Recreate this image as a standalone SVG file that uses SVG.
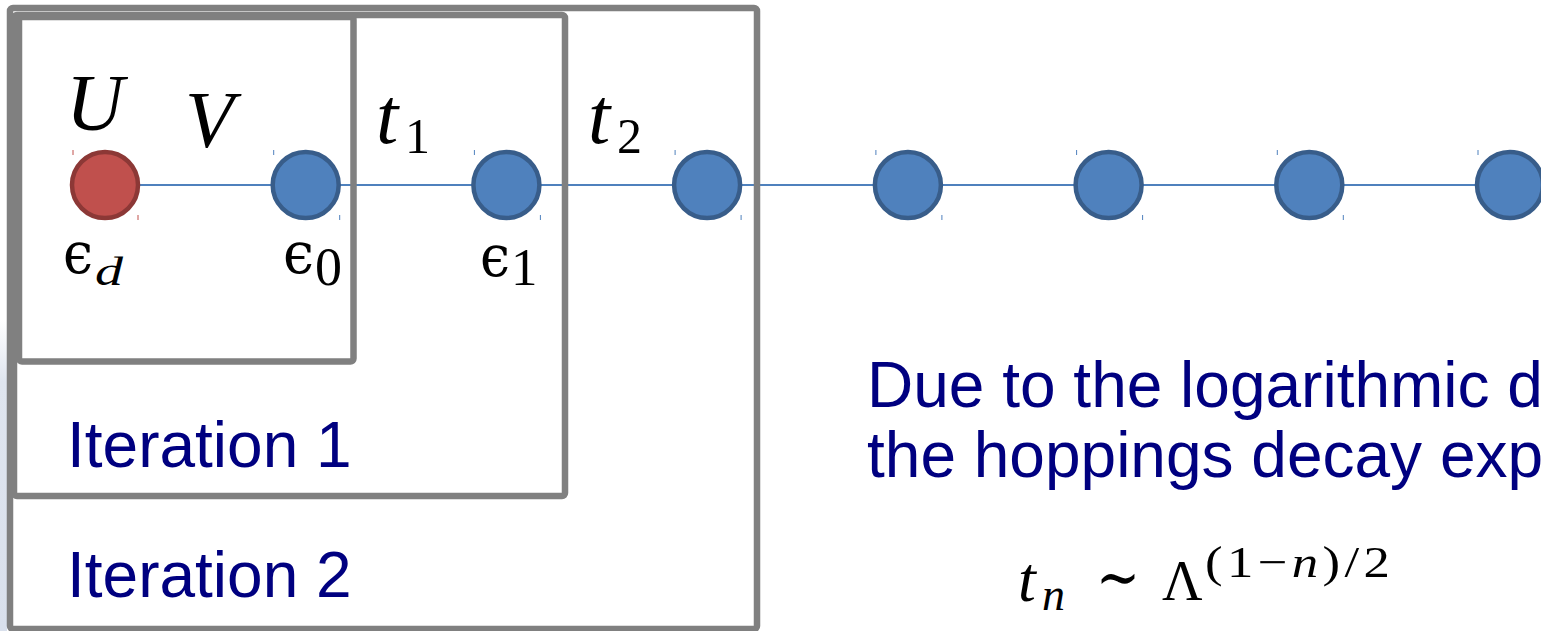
<svg xmlns="http://www.w3.org/2000/svg" width="1541" height="631" viewBox="0 0 1541 631">
<defs>
<linearGradient id="edge" x1="0" y1="0" x2="0" y2="1">
<stop offset="0" stop-color="#dfe5ef" stop-opacity="0"/>
<stop offset="0.2" stop-color="#dfe5ef" stop-opacity="1"/>
<stop offset="1" stop-color="#d9e0ec" stop-opacity="1"/>
</linearGradient>
</defs>
<style>
.box{fill:none;stroke:#808080;stroke-width:6.5}
.bond{stroke:#4f81bd;stroke-width:2;fill:none}
.red{fill:#c0504d;stroke:#8c3836;stroke-width:4.5}
.blue{fill:#4f81bd;stroke:#385d8a;stroke-width:4.5}
.tr{stroke:#c0504d;stroke-width:1}
.tb{stroke:#4f81bd;stroke-width:1}
.mi{font-family:"Liberation Serif","DejaVu Serif",serif;font-style:italic;fill:#000}
.mr{font-family:"Liberation Serif","DejaVu Serif",serif;fill:#000}
.eps{font-family:"DejaVu Serif","Liberation Serif",serif;fill:#000}
.lbl{font-family:"Liberation Sans",Arial,sans-serif;font-size:64px;fill:#000080}
</style>
<rect x="0" y="0" width="1541" height="631" fill="#fff"/>
<rect x="0" y="320" width="7" height="311" fill="url(#edge)"/>

<g id="connectors">
<line class="bond" x1="138" y1="185" x2="1541" y2="185"/>
</g>

<g id="iteration2"><rect class="box" x="10" y="8" width="747" height="621" rx="3"/></g>
<g id="iteration1"><rect class="box" x="14" y="15" width="551" height="481" rx="3"/></g>
<g id="iteration0"><rect class="box" x="19" y="17" width="334.5" height="344.5" rx="3"/></g>

<g id="node-d"><circle class="red" cx="105" cy="185" r="33"/><path class="tr" d="M73 150v5M138 215v5"/></g>
<g id="node-0"><circle class="blue" cx="305.7" cy="185" r="33"/><path class="tb" d="M273.7 150v5M339.7 215v5"/></g>
<g id="node-1"><circle class="blue" cx="506.4" cy="185" r="33"/><path class="tb" d="M474.4 150v5M540.4 215v5"/></g>
<g id="node-2"><circle class="blue" cx="707.1" cy="185" r="33"/><path class="tb" d="M675.1 150v5M741.1 215v5"/></g>
<g id="node-3"><circle class="blue" cx="907.9" cy="185" r="33"/><path class="tb" d="M875.9 150v5M941.9 215v5"/></g>
<g id="node-4"><circle class="blue" cx="1108.6" cy="185" r="33"/><path class="tb" d="M1076.6 150v5M1142.6 215v5"/></g>
<g id="node-5"><circle class="blue" cx="1309.3" cy="185" r="33"/><path class="tb" d="M1277.3 150v5M1343.3 215v5"/></g>
<g id="node-6"><circle class="blue" cx="1510" cy="185" r="33"/><path class="tb" d="M1478 150v5"/></g>

<g id="labels">
<text class="mi" x="66" y="130" font-size="80">U</text>
<text class="mi" x="185" y="147" font-size="80">V</text>
<text class="mi" x="376" y="143" font-size="80">t</text>
<text class="mr" x="405" y="153" font-size="50">1</text>
<text class="mi" x="588" y="143" font-size="80">t</text>
<text class="mr" x="617" y="153" font-size="50">2</text>
<text class="eps" x="63" y="273" font-size="58" textLength="30" lengthAdjust="spacingAndGlyphs">ϵ</text>
<text class="mi" x="95" y="285" font-size="40" textLength="28" lengthAdjust="spacingAndGlyphs">d</text>
<text class="eps" x="283" y="273" font-size="58" textLength="31" lengthAdjust="spacingAndGlyphs">ϵ</text>
<text class="mr" x="315" y="285" font-size="54">0</text>
<text class="eps" x="480" y="276" font-size="58" textLength="30" lengthAdjust="spacingAndGlyphs">ϵ</text>
<text class="mr" x="511" y="285" font-size="53">1</text>
</g>

<g id="captions">
<text class="lbl" x="67" y="467">Iteration 1</text>
<text class="lbl" x="67" y="597">Iteration 2</text>
<text class="lbl" x="867" y="407">Due to the logarithmic d</text>
<text class="lbl" x="867" y="477">the hoppings decay exp</text>
</g>

<g id="formula">
<text class="mi" x="1018" y="601" font-size="64">t</text>
<text class="mi" x="1042" y="610" font-size="46">n</text>
<text class="mr" x="1096" y="599" font-size="64" textLength="44" lengthAdjust="spacingAndGlyphs">∼</text>
<text class="mr" x="1162" y="600" font-size="56">Λ</text>
<text class="mr" transform="translate(1205 577) scale(1.2 1)" x="0" y="0" font-size="44" textLength="154" lengthAdjust="spacing">(1−<tspan font-style="italic">n</tspan>)/2</text>
</g>
</svg>
